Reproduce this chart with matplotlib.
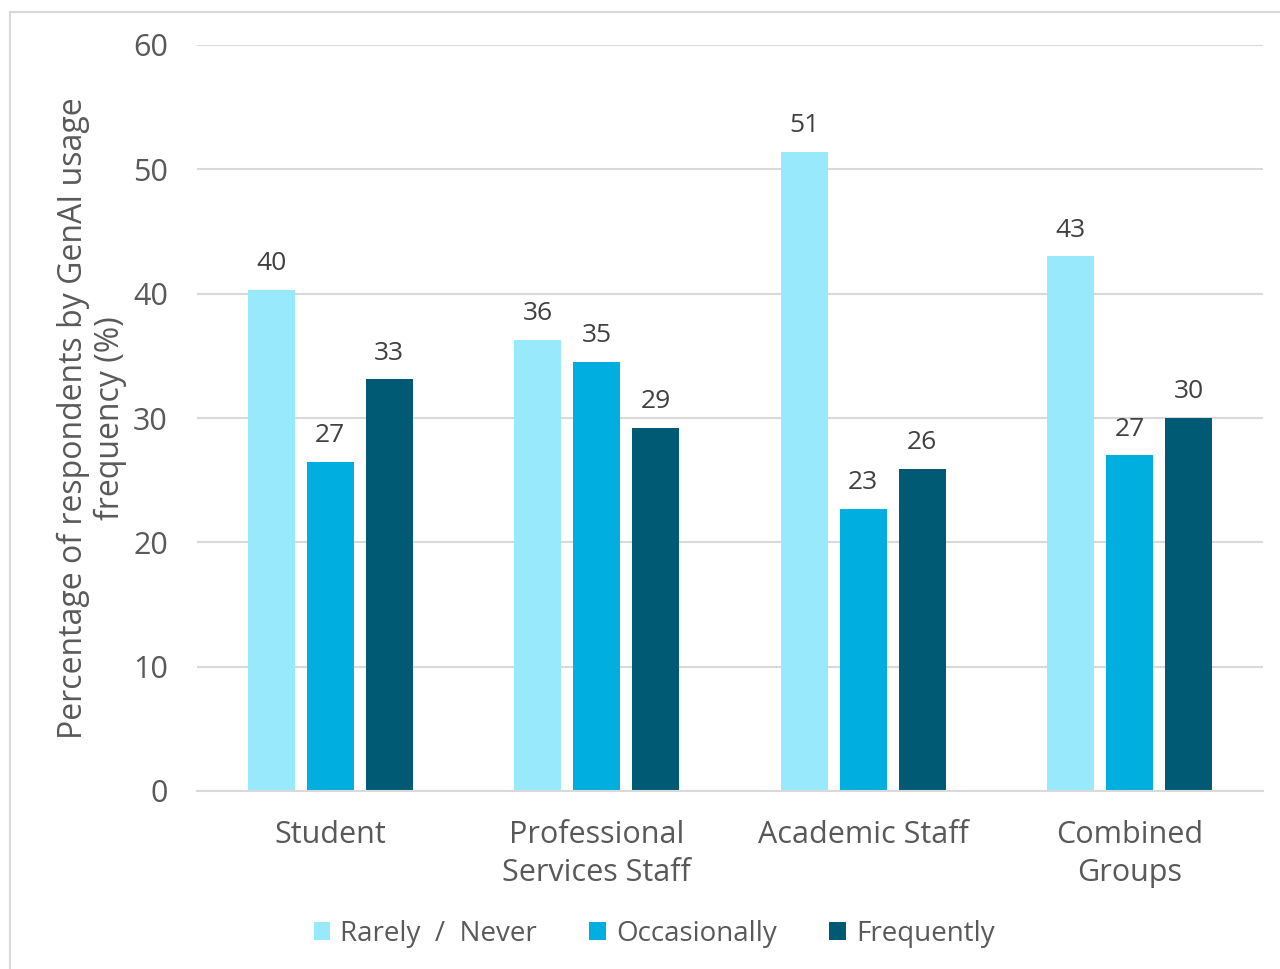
import numpy as np
import matplotlib.pyplot as plt
from matplotlib.lines import Line2D

# chart data
groups = ['Student', 'Professional\nServices Staff', 'Academic Staff', 'Combined\nGroups']
series_names = ['Rarely  /  Never', 'Occasionally', 'Frequently']
rarely_never = [40.3, 36.3, 51.4, 43.0]
occasionally = [26.5, 34.5, 22.7, 27.0]
frequently = [33.1, 29.2, 25.9, 30.0]
value_labels = [[40, 36, 51, 43], [27, 35, 23, 27], [33, 29, 26, 30]]
y_ticks = [0, 10, 20, 30, 40, 50, 60]

colours = ['#99E9FD', '#00AEDF', '#005A74']
text_grey = '#595959'
grid_grey = '#D9D9D9'

plt.rcParams['font.family'] = ['Open Sans', 'DejaVu Sans']

fig = plt.figure(figsize = (12.8, 9.69), dpi = 100)
ax = fig.add_axes([197 / 1280, 1 - 791 / 969, (1263 - 197) / 1280, (791 - 45) / 969])

x = np.arange(len(groups))
offset = 0.221
width = 0.176
all_series = [rarely_never, occasionally, frequently]
for i, (values, name, colour) in enumerate(zip(all_series, series_names, colours)):
   pos = x + (i - 1) * offset
   ax.bar(pos, values, width = width, color = colour, label = name, zorder = 3)
   for px, v, lab in zip(pos, values, value_labels[i]):
      ax.text(px, v + 1.1, str(lab), ha = 'center', va = 'bottom', fontsize = 19, color = '#404040')

ax.set_xlim(-0.5, len(groups) - 0.5)
ax.set_ylim(0, 60)
ax.set_yticks(y_ticks)
ax.set_xticks(x)
ax.set_xticklabels(groups, fontsize = 22, color = text_grey, linespacing = 1.32)
ax.tick_params(axis = 'y', labelsize = 22, labelcolor = text_grey, length = 0, pad = 21)
ax.tick_params(axis = 'x', length = 0, pad = 21)
ax.grid(axis = 'y', color = grid_grey, linewidth = 1.5, zorder = 0)
for side in ['top', 'right', 'left']:
   ax.spines[side].set_visible(False)
ax.spines['bottom'].set_color(grid_grey)
ax.spines['bottom'].set_linewidth(1.5)
ax.spines['bottom'].set_zorder(4)

ax.set_ylabel('Percentage of respondents by GenAI usage\nfrequency (%)', fontsize = 23,
              color = text_grey, linespacing = 1.15)
ax.yaxis.set_label_coords(-0.066, 0.5)

handles, labels = ax.get_legend_handles_labels()
fig.legend(handles, labels, loc = 'center', bbox_to_anchor = (654 / 1280, 1 - 934 / 969),
           ncol = 3, frameon = False, fontsize = 20, labelcolor = text_grey,
           handlelength = 0.6, handleheight = 0.6, handletextpad = 0.35, columnspacing = 1.9)

# thin frame round the chart area, as in the reference
fig.add_artist(Line2D([10 / 1280, 10 / 1280], [0, 1 - 12 / 969], transform = fig.transFigure,
                      color = grid_grey, linewidth = 1.5))
fig.add_artist(Line2D([10 / 1280, 1], [1 - 12 / 969, 1 - 12 / 969], transform = fig.transFigure,
                      color = grid_grey, linewidth = 1.5))

fig.savefig('out.png', dpi = 100)
